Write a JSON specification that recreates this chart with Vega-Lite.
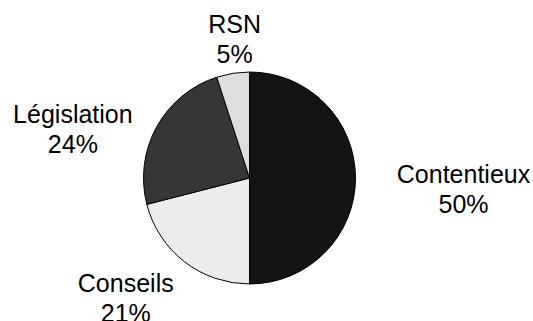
{
  "$schema": "https://vega.github.io/schema/vega-lite/v6.json",
  "width": 499,
  "height": 286,
  "autosize": {"type": "none"},
  "padding": {"left": 0, "top": 35, "right": 34, "bottom": 0},
  "background": "white",
  "config": {"view": {"stroke": null}, "text": {"font": "Liberation Sans", "fontSize": 25, "lineBreak": "\n", "lineHeight": 30, "color": "black", "baseline": "alphabetic"}},
  "data": {"values": [
    {"i": 1, "cat": "Contentieux", "value": 50, "label": "Contentieux\n50%"},
    {"i": 2, "cat": "Conseils", "value": 21, "label": "Conseils\n21%"},
    {"i": 3, "cat": "Législation", "value": 24, "label": "Législation\n24%"},
    {"i": 4, "cat": "RSN", "value": 5, "label": "RSN\n5%"}
  ]},
  "encoding": {
    "theta": {"field": "value", "type": "quantitative", "stack": true},
    "order": {"field": "i", "type": "quantitative"}
  },
  "layer": [
    {
      "mark": {"type": "arc", "outerRadius": 106, "stroke": "black", "strokeWidth": 1},
      "encoding": {
        "color": {"field": "cat", "type": "nominal", "legend": null,
          "scale": {"domain": ["Contentieux", "Conseils", "Législation", "RSN"], "range": ["#141414", "#ececec", "#363636", "#dedede"]}}
      }
    },
    {
      "mark": {"type": "text", "radius": 214, "dy": 5},
      "encoding": {"text": {"condition": {"test": "datum.cat === 'Contentieux'", "field": "label"}, "value": ""}}
    },
    {
      "mark": {"type": "text", "radius": 166, "dx": -22, "dy": -17},
      "encoding": {"text": {"condition": {"test": "datum.cat === 'Conseils'", "field": "label"}, "value": ""}}
    },
    {
      "mark": {"type": "text", "radius": 181, "dx": -18, "dy": 32},
      "encoding": {"text": {"condition": {"test": "datum.cat === 'Législation'", "field": "label"}, "value": ""}}
    },
    {
      "mark": {"type": "text", "radius": 146, "dx": 8, "dy": -1},
      "encoding": {"text": {"condition": {"test": "datum.cat === 'RSN'", "field": "label"}, "value": ""}}
    }
  ]
}
